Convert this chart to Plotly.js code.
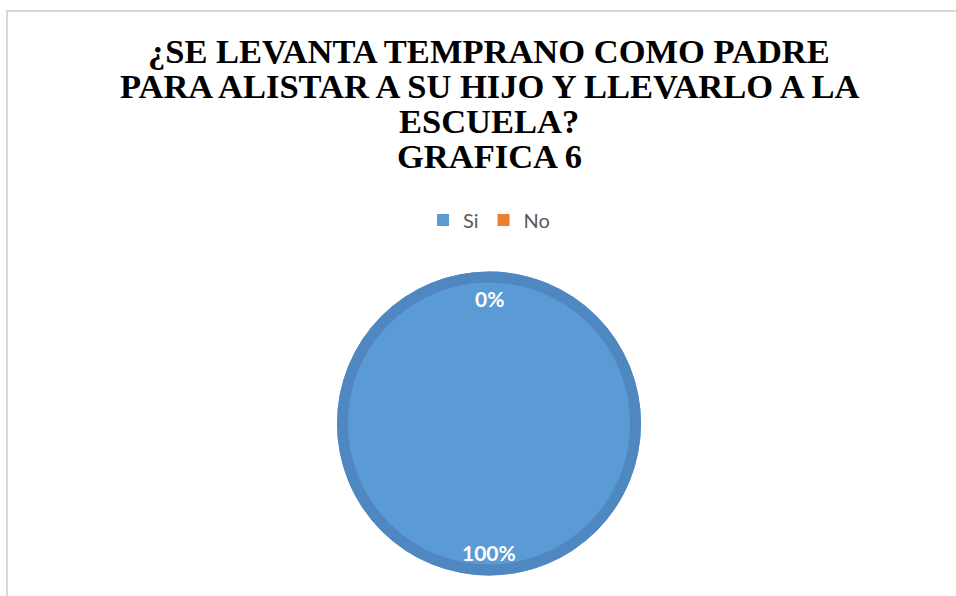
<!DOCTYPE html>
<html>
<head>
<meta charset="utf-8">
<script src="https://cdn.plot.ly/plotly-3.0.1.min.js"></script>
<style>
  html, body { margin: 0; padding: 0; background: #ffffff; }
  #chart { width: 956px; height: 596px; }
</style>
</head>
<body>
<div id="chart"></div>
<script>
// ---- data ----
const categories = ["Si", "No"];
const values = [100, 0];
const sliceColors = ["#5b9bd5", "#ed7d31"];
const titleLines = [
  "¿SE LEVANTA TEMPRANO COMO PADRE",
  "PARA ALISTAR A SU HIJO Y LLEVARLO A LA",
  "ESCUELA?",
  "GRAFICA 6"
];

// ---- layout helpers (pixel -> paper, margins are zero) ----
const W = 956, H = 596;
const px = x => x / W;
const py = y => 1 - y / H;

const cx = 489, cy = 423.5, r = 152;

const total = values.reduce((a, b) => a + b, 0);
const pctText = values.map(v => Math.round(v / total * 100) + "%");

const titleY = [51, 86, 121, 156];
const annotations = titleLines.map((t, i) => ({
  text: t, xref: "paper", yref: "paper", x: px(489), y: py(titleY[i]),
  xanchor: "center", yanchor: "middle", showarrow: false,
  font: { family: "Liberation Serif, Times New Roman, serif", size: 34.5, color: "#000000", weight: "bold" }
}));

// data labels: "Si" (100%) near bottom, "No" (0%) near top (inside-end style)
const labelY = [552, 298];
values.forEach((v, i) => {
  annotations.push({
    text: "<b>" + pctText[i] + "</b>", xref: "paper", yref: "paper",
    x: px(cx), y: py(labelY[i]), xanchor: "center", yanchor: "middle", showarrow: false,
    font: { family: "Lato, Carlito, Calibri, sans-serif", size: 21, color: "#ffffff" }
  });
});

const data = [{
  type: "pie",
  labels: categories,
  values: values,
  sort: false,
  direction: "clockwise",
  rotation: 0,
  textinfo: "none",
  hoverinfo: "label+percent",
  marker: { colors: sliceColors, line: { color: "#ffffff", width: 0 } },
  domain: { x: [px(cx - r), px(cx + r)], y: [py(cy + r), py(cy - r)] }
}];

const ringR = r - 5.5;
const layout = {
  width: W, height: H,
  margin: { l: 0, r: 0, t: 0, b: 0 },
  paper_bgcolor: "#ffffff",
  showlegend: true,
  legend: {
    orientation: "h", x: px(489), xanchor: "center", y: py(220), yanchor: "middle",
    font: { family: "Lato, Carlito, Calibri, sans-serif", size: 20, color: "#595959" },
    itemwidth: 30, traceorder: "normal"
  },
  annotations: annotations,
  shapes: [
    {
      type: "rect", xref: "paper", yref: "paper",
      x0: px(7), x1: 1.2, y0: -0.2, y1: py(11),
      line: { color: "#d9d9d9", width: 2 }, fillcolor: "rgba(0,0,0,0)", layer: "below"
    },
    {
      type: "circle", xref: "paper", yref: "paper",
      x0: px(cx - ringR), x1: px(cx + ringR), y0: py(cy + ringR), y1: py(cy - ringR),
      line: { color: "#4f88c0", width: 11 }, fillcolor: "rgba(0,0,0,0)", layer: "above"
    }
  ]
};

Plotly.newPlot("chart", data, layout, { displayModeBar: false, staticPlot: true });
</script>
</body>
</html>
